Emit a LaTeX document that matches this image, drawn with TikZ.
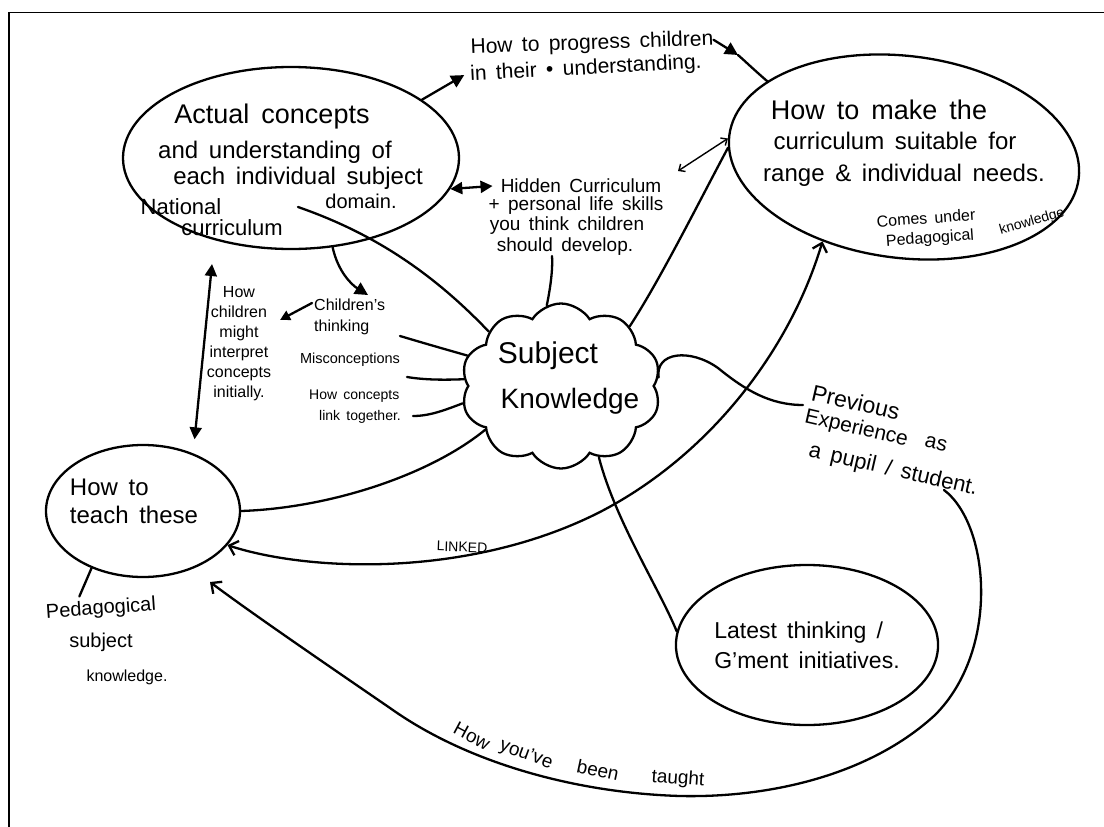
\documentclass[tikz,border=0pt]{standalone}
\usepackage{fontspec}
\setmainfont{Liberation Sans}[WordSpace={1.6}]
\usetikzlibrary{arrows.meta,shapes.geometric,shapes.symbols}

\tikzset{
  pen/.style={line width=2.3pt, line cap=round, line join=round},
  thinpen/.style={line width=1.4pt, line cap=round},
  bubble/.style={ellipse, draw, line width=2.3pt, inner sep=0pt},
  hw/.style 2 args={inner sep=0pt, font=\fontsize{#1}{#2}\selectfont, align=center},
  fathead/.style={-{Triangle[length=13pt,width=13pt]}},
  fatboth/.style={{Triangle[length=12pt,width=12pt]}-{Triangle[length=12pt,width=12pt]}},
  openhead/.style={-{Straight Barb[length=8pt,width=15pt]}},
  openboth/.style={{Straight Barb[length=8pt,width=15pt]}-{Straight Barb[length=8pt,width=15pt]}},
  smallboth/.style={{Straight Barb[length=5pt,width=9pt]}-{Straight Barb[length=5pt,width=9pt]}},
}

\begin{document}
\begin{tikzpicture}[x=1pt,y=-1pt]
\useasboundingbox (0,0) rectangle (1104,827);

% sheet edge
\draw[line width=1.8pt] (9,827) -- (9,12.5) -- (1104,12.5);

% --- bubbles ---
\node[bubble, minimum width=336pt, minimum height=182pt] (A) at (291,158) {};
\node[bubble, rotate=-7, minimum width=352pt, minimum height=202pt] (B) at (904,157) {};
\node[bubble, minimum width=194pt, minimum height=132pt] (T) at (143,511) {};
\node[bubble, minimum width=236pt, minimum height=160pt, hw={23}{30}, align=left] (L) at (807,645) {Latest thinking /\\G'ment initiatives.};
\node[cloud, draw, line width=2.3pt, cloud puffs=10, cloud puff arc=115, aspect=1.2,
      minimum width=200pt, minimum height=165pt, inner sep=0pt] (SK) at (561,386) {};

% --- text in the top-left bubble ---
\node[hw={27}{30}] (A1) at (272,117) {Actual concepts};
\node[hw={24}{28}] (A2) at (275,152) {and understanding of};
\node[hw={24}{28}] (A3) at (298,178) {each individual subject};
\node[hw={20}{24}] (A4) at (361,201) {domain.};
\node[hw={22}{26}] (A5) at (181,207) {National};
\node[hw={22}{26}] (A6) at (232,228) {curriculum};

% --- text in the top-right bubble ---
\node[hw={27}{30}] (B1) at (879,110) {How to make the};
\node[hw={24}{28}] (B2) at (895,141) {curriculum suitable for};
\node[hw={24}{28}] (B3) at (904,175) {range \& individual needs.};
\node[hw={16}{20}, rotate=4] (B4) at (926,218) {Comes under};
\node[hw={16}{20}, rotate=4] (B5) at (930,239) {Pedagogical};
\node[hw={14}{18}, rotate=16] (B6) at (1032,222) {knowledge};

% --- centre ---
\node[hw={30}{34}] (S1) at (548,356) {Subject};
\node[hw={28}{32}] (S2) at (570,401) {Knowledge};

% --- top label ---
\node[hw={21}{25}, rotate=2] (P1) at (592,44) {How to progress children};
\node[hw={21}{25}, rotate=3] (P2) at (586,69) {in their • understanding.};

% --- hidden curriculum ---
\node[hw={19}{22}] (H1) at (581,186) {Hidden Curriculum};
\node[hw={19}{22}] (H2) at (576,206) {+ personal life skills};
\node[hw={19}{22}] (H3) at (567,226) {you think children};
\node[hw={19}{22}] (H4) at (565,247) {should develop.};

% --- small labels left of the cloud ---
\node[hw={16}{21}, align=left, anchor=west] (CT) at (314,317) {Children's\\thinking};
\node[hw={14.5}{18}] (MC) at (350,360) {Misconceptions};
\node[hw={14}{21}, align=left] (HL) at (355,407) {How concepts\\\hspace*{10pt}link together.};
\node[hw={16}{20}] (HC) at (239,344) {How\\children\\might\\interpret\\concepts\\initially.};

% --- lower left ---
\node[hw={24}{28}, align=left] (TT) at (134,501) {How to\\teach these};
\node[hw={20}{24}, rotate=4] (PS1) at (101,609) {Pedagogical};
\node[hw={20}{24}] (PS2) at (101,642) {subject};
\node[hw={16}{20}] (PS3) at (127,677) {knowledge.};

% --- right side ---
\node[hw={23}{28}, rotate=-13, anchor=west] (V1) at (812,392) {Previous};
\node[hw={21}{28}, rotate=-13, anchor=west] (V2) at (805,417) {Experience};
\node[hw={21}{28}, rotate=-13, anchor=west] (V3) at (925,441) {as};
\node[hw={22}{28}, rotate=-13, anchor=west] (V4) at (809,451) {a pupil / student.};

% --- curve labels ---
\node[hw={14}{16}, rotate=-2] (LK) at (462,547) {LINKED};
\node[hw={19}{22}, rotate=-28] (W1) at (472,736) {How};
\node[hw={19}{22}, rotate=-20] (W2) at (526,755) {you've};
\node[hw={19}{22}, rotate=-12] (W3) at (598,770) {been};
\node[hw={19}{22}, rotate=-4] (W4) at (678,779) {taught};

% --- free ends ---
\coordinate (a0) at (298,207);
\coordinate (pk) at (738,55);
\coordinate (ct) at (368,295);
\coordinate (hce) at (280,320);
\coordinate (c1) at (400,336);
\coordinate (c2) at (407,377);
\coordinate (c3) at (413,416);
\coordinate (td) at (678,171);
\coordinate (pv) at (803,405);
\coordinate (sv) at (944,490);
\coordinate (tb) at (210,582);

% --- connectors ---
\draw[pen, fathead] (A.24) -- ([xshift=-6pt]P2.west);
\draw[pen, fathead] (P1.east) -- (pk);
\draw[pen] (pk) .. controls (746,62) and (752,68) .. (B.158);
\draw[pen, fatboth] (A.-11) -- ([xshift=-8pt]H1.west);
\draw[thinpen, smallboth] (td) -- (B.181);
\draw[pen, fathead] (A.295) .. controls (338,272) and (352,285) .. (ct);
\draw[pen, fatboth, shorten <=14pt, shorten >=24pt] (T.49) -- (A.227);
\draw[pen, -{Triangle[length=10pt,width=10pt]}] ([shift={(-2,-14)}]CT.west) -- (hce);

\draw[pen] (a0) .. controls (370,232) and (430,270) .. (SK.143);
\draw[pen] (c1) .. controls (430,345) and (455,352) .. (SK.162);
\draw[pen] (c2) .. controls (425,380) and (445,380) .. (SK.176);
\draw[pen] (c3) .. controls (430,416) and (445,410) .. (SK.190);
\draw[pen] (T.0) .. controls (330,508) and (430,475) .. (SK.210);
\draw[pen] ([xshift=-13pt]H4.south) .. controls (553,270) and (550,290) .. (SK.100);
\draw[pen] (SK.41) .. controls (660,280) and (700,200) .. (B.184);
\draw[pen] (SK.5) .. controls (655,352) and (690,348) .. (718,368)
           .. controls (745,390) and (770,405) .. (pv);
\draw[pen] (SK.298) .. controls (615,520) and (660,590) .. (L.174);
\draw[pen] (T.228) -- ([shift={(-21,-3)}]PS1.north);

\draw[pen, openboth] (T.338) .. controls (310,572) and (470,578) .. (600,512)
           .. controls (710,455) and (790,350) .. (B.233);
\draw[pen, openhead] (sv) .. controls (990,525) and (1000,650) .. (935,715)
           .. controls (870,775) and (770,798) .. (680,796)
           .. controls (580,793) and (470,765) .. (390,708)
           .. controls (320,660) and (250,612) .. (tb);
\end{tikzpicture}
\end{document}
